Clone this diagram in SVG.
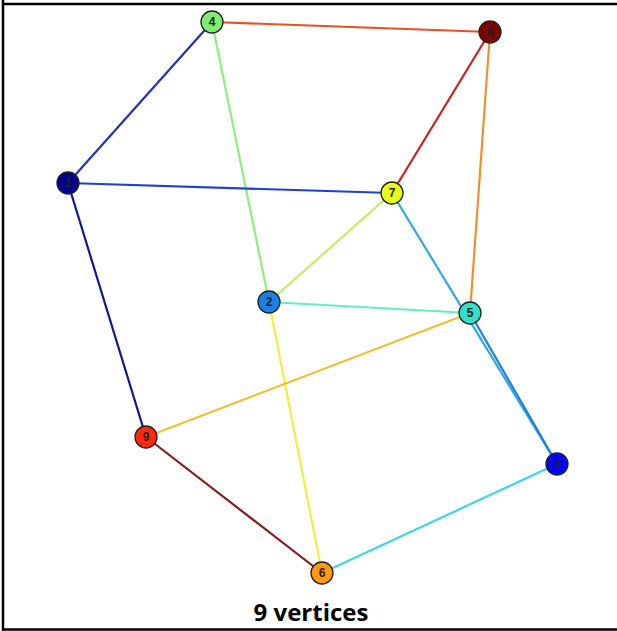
<svg xmlns="http://www.w3.org/2000/svg" width="617" height="631" viewBox="0 0 617 631">
<style>
.e{stroke-width:2.2;fill:none;stroke-linecap:round}
.n circle{stroke:#222;stroke-width:1.3}
.n text{font-family:"Liberation Sans",Arial,sans-serif;font-size:12px;font-weight:bold;fill:#222;text-anchor:middle;dominant-baseline:central}
.cap{font-family:"Open Sans","Liberation Sans",sans-serif;font-size:24px;font-weight:bold;fill:#000;text-anchor:middle}
</style>
<rect x="0" y="0" width="617" height="631" fill="#fff"/>
<g id="frame" stroke="#000" stroke-width="2.5" fill="none">
<line x1="3" y1="0" x2="3" y2="631"/>
<line x1="2" y1="4" x2="617" y2="4"/>
<line x1="2" y1="629.5" x2="617" y2="629.5"/>
</g>
<g id="edges">
<line class="e" x1="212" y1="22" x2="490" y2="32" stroke="#e8501e"/>
<line class="e" x1="212" y1="22" x2="68" y2="183" stroke="#2030c0"/>
<line class="e" x1="212" y1="22" x2="269" y2="302" stroke="#90ee80"/>
<line class="e" x1="490" y1="32" x2="392" y2="193" stroke="#cc2020"/>
<line class="e" x1="490" y1="32" x2="470" y2="313" stroke="#f09030"/>
<line class="e" x1="68" y1="183" x2="392" y2="193" stroke="#2040d0"/>
<line class="e" x1="68" y1="183" x2="146" y2="437" stroke="#101890"/>
<line class="e" x1="392" y1="193" x2="269" y2="302" stroke="#c0f060"/>
<line class="e" x1="392" y1="193" x2="557" y2="464" stroke="#30a8e0"/>
<line class="e" x1="269" y1="302" x2="470" y2="313" stroke="#60f0c0"/>
<line class="e" x1="269" y1="302" x2="322" y2="573" stroke="#f0f040"/>
<line class="e" x1="470" y1="313" x2="146" y2="437" stroke="#f0c030"/>
<line class="e" x1="470" y1="313" x2="557" y2="464" stroke="#2080e0"/>
<line class="e" x1="146" y1="437" x2="322" y2="573" stroke="#802020"/>
<line class="e" x1="557" y1="464" x2="322" y2="573" stroke="#40d8e0"/>
</g>
<g id="node1" class="n"><circle cx="68" cy="183" r="11" fill="#00008f"/><text x="68" y="183">1</text></g>
<g id="node2" class="n"><circle cx="269" cy="302" r="11" fill="#1a80e8"/><text x="269" y="302">2</text></g>
<g id="node3" class="n"><circle cx="557" cy="464" r="11" fill="#0000ff"/><text x="557" y="464">3</text></g>
<g id="node4" class="n"><circle cx="212" cy="22" r="11" fill="#80ee70"/><text x="212" y="22">4</text></g>
<g id="node5" class="n"><circle cx="470" cy="313" r="11" fill="#30e0c8"/><text x="470" y="313">5</text></g>
<g id="node6" class="n"><circle cx="322" cy="573" r="11" fill="#ff9a10"/><text x="322" y="573">6</text></g>
<g id="node7" class="n"><circle cx="392" cy="193" r="11" fill="#e8ff18"/><text x="392" y="193">7</text></g>
<g id="node8" class="n"><circle cx="490" cy="32" r="11" fill="#800000"/><text x="490" y="32">8</text></g>
<g id="node9" class="n"><circle cx="146" cy="437" r="11" fill="#ff2a10"/><text x="146" y="437">9</text></g>
<text class="cap" x="311" y="621">9 vertices</text>
</svg>
